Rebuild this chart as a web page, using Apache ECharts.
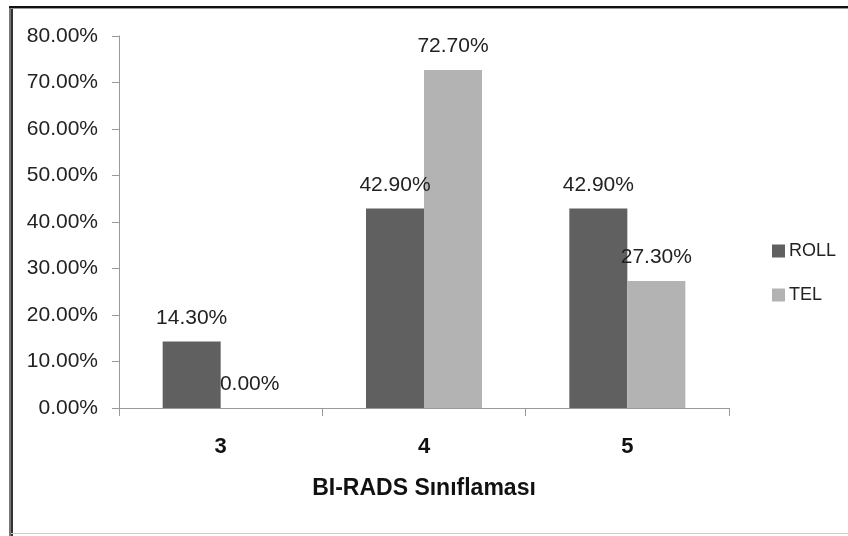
<!DOCTYPE html>
<html>
<head>
<meta charset="utf-8">
<script src="https://cdn.jsdelivr.net/npm/echarts@6/dist/echarts.min.js"></script>
<style>
  html, body { margin: 0; padding: 0; background: #fff; }
  #chart { width: 848px; height: 536px; }
</style>
</head>
<body>
<div id="chart"></div>
<script>
// BI-RADS categories and the share of each method per category (%)
const categories = ['3', '4', '5'];
const rollValues = [14.3, 42.9, 42.9];
const telValues = [0.0, 72.7, 27.3];
const seriesNames = ['ROLL', 'TEL'];
const axisTitle = 'BI-RADS Sınıflaması';
const yMax = 80;
const yStep = 10;

const FONT = '"Liberation Sans", Arial, sans-serif';
const fmtPct = v => Number(v).toFixed(2) + '%';

const chart = echarts.init(document.getElementById('chart'), null, { renderer: 'canvas' });

const labelStyle = {
  show: true,
  position: 'top',
  distance: 13,
  fontFamily: FONT,
  fontSize: 21,
  color: '#222',
  formatter: p => fmtPct(p.value)
};

chart.setOption({
  animation: false,
  backgroundColor: '#fff',
  textStyle: { fontFamily: FONT },
  graphic: [
    // frame around the chart area
    { type: 'rect', shape: { x: 9, y: 6, width: 2, height: 530 }, style: { fill: '#777' }, silent: true },
    { type: 'rect', shape: { x: 11, y: 6, width: 2, height: 530 }, style: { fill: '#333' }, silent: true },
    { type: 'rect', shape: { x: 9, y: 6, width: 839, height: 2 }, style: { fill: '#111' }, silent: true },
    { type: 'rect', shape: { x: 11, y: 8, width: 837, height: 1 }, style: { fill: '#999' }, silent: true },
    { type: 'rect', shape: { x: 11, y: 533, width: 837, height: 1 }, style: { fill: '#ccc' }, silent: true }
  ],
  grid: { left: 119, right: 119, top: 36, bottom: 128, containLabel: false },
  legend: {
    orient: 'vertical',
    left: 767,
    top: 237,
    itemWidth: 13,
    itemHeight: 13,
    itemGap: 26,
    icon: 'rect',
    textStyle: { fontFamily: FONT, fontSize: 18, color: '#222', padding: [0, 0, 0, -1] },
    data: seriesNames
  },
  xAxis: {
    type: 'category',
    data: categories,
    name: axisTitle,
    nameLocation: 'middle',
    nameGap: 69,
    nameTextStyle: { fontFamily: FONT, fontSize: 23, fontWeight: 'bold', color: '#111' },
    axisLine: { lineStyle: { color: '#999', width: 1 } },
    axisTick: { show: true, length: 8, lineStyle: { color: '#999' } },
    axisLabel: { fontFamily: FONT, fontSize: 22, fontWeight: 'bold', color: '#111', margin: 28 }
  },
  yAxis: {
    type: 'value',
    min: 0,
    max: yMax,
    interval: yStep,
    axisLine: { show: true, lineStyle: { color: '#999', width: 1 } },
    axisTick: { show: true, length: 7, lineStyle: { color: '#999' } },
    splitLine: { show: false },
    axisLabel: { fontFamily: FONT, fontSize: 21, color: '#222', margin: 21, formatter: v => fmtPct(v) }
  },
  series: [
    {
      name: seriesNames[0],
      type: 'bar',
      data: rollValues,
      barWidth: 58,
      barGap: '0%',
      itemStyle: { color: '#606060' },
      label: labelStyle
    },
    {
      name: seriesNames[1],
      type: 'bar',
      data: telValues,
      barWidth: 58,
      barGap: '0%',
      itemStyle: { color: '#b3b3b3' },
      label: labelStyle
    }
  ]
});
</script>
</body>
</html>
